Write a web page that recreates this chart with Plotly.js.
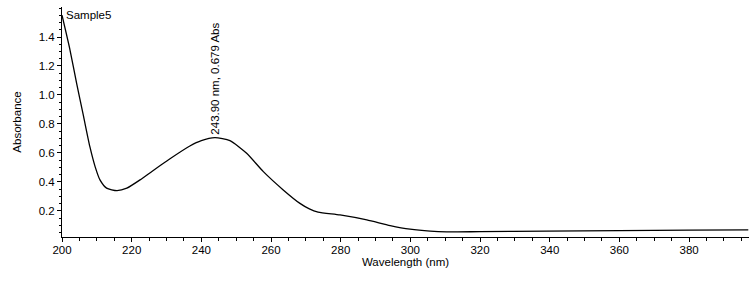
<!DOCTYPE html>
<html>
<head>
<meta charset="utf-8">
<script src="https://cdn.plot.ly/plotly-3.0.1.min.js"></script>
<style>
html,body{margin:0;padding:0;background:#fff;}
#chart{width:749px;height:283px;}
</style>
</head>
<body>
<div id="chart"></div>
<script>
// Wavelength (nm) and absorbance
const wavelength = [200, 202.3, 204.2, 206.1, 208, 209.5, 210.9, 212.8, 215.8, 218.6, 222.4, 226, 231, 236.7, 240, 243.9, 248.2, 253, 257.8, 263.5, 268.3, 271, 273.5, 279.8, 287.5, 294.2, 299.9, 305.7, 310.4, 320, 339, 360, 380, 397];
const absorbance = [1.55, 1.31, 1.08, 0.862, 0.643, 0.506, 0.414, 0.357, 0.340, 0.357, 0.414, 0.476, 0.560, 0.648, 0.685, 0.705, 0.685, 0.598, 0.471, 0.345, 0.252, 0.214, 0.192, 0.172, 0.138, 0.099, 0.074, 0.060, 0.055, 0.057, 0.061, 0.064, 0.067, 0.069];
const seriesName = "Sample5";
const peakLabel = "243.90 nm, 0.679 Abs";
const peakWavelength = 243.9;
const peakAbsorbance = 0.705;
const xTickVals = [200, 220, 240, 260, 280, 300, 320, 340, 360, 380];
const yTickVals = [0.2, 0.4, 0.6, 0.8, 1.0, 1.2, 1.4];
const yTickText = ["0.2", "0.4", "0.6", "0.8", "1.0", "1.2", "1.4"];

const font = {family: "Liberation Sans, Arial, sans-serif", size: 11.5, color: "#000"};

const trace = {
  x: wavelength,
  y: absorbance,
  type: "scatter",
  mode: "lines",
  name: seriesName,
  line: {color: "#000", width: 1.3, shape: "spline", smoothing: 0.6},
  hoverinfo: "skip"
};

const layout = {
  width: 749,
  height: 283,
  margin: {l: 62, r: 0, t: 7, b: 46, pad: 0},
  paper_bgcolor: "#fff",
  plot_bgcolor: "#fff",
  showlegend: false,
  font: font,
  xaxis: {
    range: [200, 397.2],
    showgrid: false,
    zeroline: false,
    showline: true,
    linecolor: "#000",
    linewidth: 1,
    tickmode: "array",
    tickvals: xTickVals,
    ticks: "outside",
    ticklen: 4,
    tickcolor: "#000",
    tickfont: font,
    ticklabelstandoff: -2,
    minor: {dtick: 5, ticks: "outside", ticklen: 3, tickcolor: "#000", showgrid: false},
    title: {text: "Wavelength (nm)", font: font, standoff: 2}
  },
  yaxis: {
    range: [0.02, 1.607],
    showgrid: false,
    zeroline: false,
    showline: true,
    linecolor: "#000",
    linewidth: 1,
    tickmode: "array",
    tickvals: yTickVals,
    ticktext: yTickText,
    ticks: "outside",
    ticklen: 4,
    tickcolor: "#000",
    tickfont: font,
    minor: {dtick: 0.05, tick0: 0, ticks: "outside", ticklen: 2, tickcolor: "#000", showgrid: false},
    title: {text: "Absorbance", font: font, standoff: 14}
  },
  annotations: [
    {
      text: seriesName,
      xref: "paper", yref: "paper",
      x: 0, y: 1,
      xanchor: "left", yanchor: "top",
      xshift: 2, yshift: 0,
      showarrow: false,
      font: font
    },
    {
      text: peakLabel,
      x: peakWavelength, y: peakAbsorbance,
      xref: "x", yref: "y",
      textangle: -90,
      xanchor: "center", yanchor: "bottom",
      yshift: 1,
      showarrow: false,
      font: font
    }
  ]
};

Plotly.newPlot("chart", [trace], layout, {staticPlot: true, displayModeBar: false});
</script>
</body>
</html>
